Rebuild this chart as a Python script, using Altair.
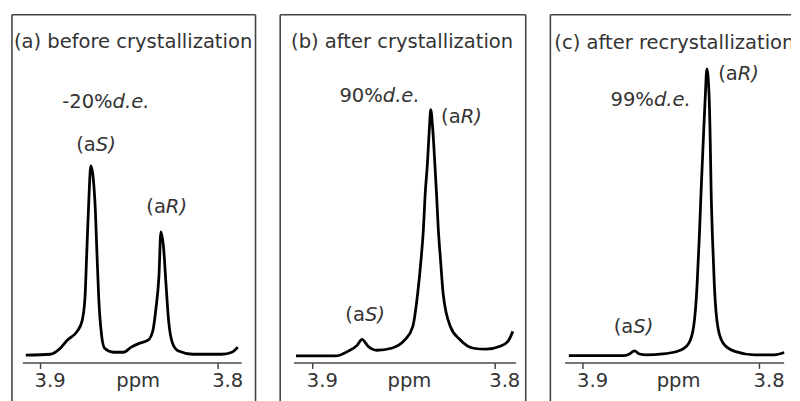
import altair as alt
import pandas as pd

# ---------------- data ----------------
# shared intensity scale (tallest peak = 100)
Y_DOMAIN = [-16.14, 119.03]

# panel (a) spectrum
a_ppm = [3.9083, 3.8944, 3.8889, 3.8850, 3.8794, 3.8767, 3.8750, 3.8739, 3.8728, 3.8717,
         3.8694, 3.8683, 3.8672, 3.8656, 3.8639, 3.8589, 3.8533, 3.8489, 3.8444, 3.8394,
         3.8367, 3.8350, 3.8333, 3.8322, 3.8306, 3.8294, 3.8278, 3.8256, 3.8222, 3.8144,
         3.7978, 3.7922, 3.7889]
a_int = [0.0, 0.3, 2.4, 5.2, 8.3, 11.7, 19.7, 36.9, 54.1, 66.2,
         54.1, 36.9, 19.7, 6.9, 2.4, 1.0, 1.0, 2.8, 4.1, 5.2,
         8.6, 16.2, 27.6, 43.1, 36.9, 25.5, 11.7, 4.1, 1.4, 0.3,
         0.3, 1.0, 2.8]

# panel (b) spectrum
b_ppm = [3.9092, 3.8876, 3.8805, 3.8757, 3.8730, 3.8697, 3.8649, 3.8568, 3.8497, 3.8452,
         3.8425, 3.8407, 3.8393, 3.8384, 3.8371, 3.8361, 3.8353, 3.8342, 3.8331, 3.8321,
         3.8312, 3.8299, 3.8285, 3.8245, 3.8191, 3.8119, 3.8049, 3.7973, 3.7930, 3.7903]
b_int = [-0.3, -0.3, 1.4, 3.4, 5.5, 3.1, 1.7, 2.4, 5.2, 9.9,
         21.4, 32.9, 44.4, 55.9, 67.3, 78.9, 85.8, 78.9, 67.3, 55.9,
         44.4, 32.9, 21.4, 9.9, 5.3, 2.4, 2.1, 3.1, 4.8, 8.3]

# panel (c) spectrum
c_ppm = [3.9080, 3.8773, 3.8736, 3.8708, 3.8680, 3.8642, 3.8549, 3.8456, 3.8401, 3.8373,
         3.8354, 3.8341, 3.8330, 3.8318, 3.8307, 3.8298, 3.8285, 3.8279, 3.8274, 3.8266,
         3.8255, 3.8236, 3.8205, 3.8140, 3.8028, 3.7916, 3.7860]
c_int = [-0.2, -0.2, 0.4, 1.5, 0.4, 0.1, 0.4, 1.5, 4.1, 9.9,
         23.7, 40.9, 58.2, 75.4, 90.3, 100.1, 90.3, 75.4, 58.2, 40.9,
         23.7, 9.9, 4.1, 1.3, 0.1, 0.1, 0.9]

# x-scale domains of the three frames (ppm)
x_domains = [[3.77889, 3.91611], [3.78324, 3.91784], [3.78212, 3.91844]]
frame_widths = [247, 249, 244]
frame_right = [True, True, False]   # panel (c) runs off the right edge

# axis lines (ppm extent) and tick values
axis_ext = [[3.9100, 3.7867], [3.9103, 3.7886], [3.9101, 3.7860]]
tick_vals = [3.9, 3.8]
tick_text = ["3.9", "3.8"]
AXIS_Y = -2.76
TICK_Y2 = -4.83
LABEL_Y = -11.2      # text baseline of tick labels and "ppm"

titles = ["(a) before crystallization", "(b) after crystallization", "(c) after recrystallization"]
title_ppm = [3.9150, 3.9119, 3.9162]
title_y = [109.3, 109.3, 109.0]
title_fs = [19.8, 19.8, 19.8]

ppm_label_x = [3.8450, 3.8470, 3.8458]

de_text = ["-20%", "90%", "99%"]
de_ppm = [3.8594, 3.8616, 3.8598]
de_y = [88.6, 90.7, 89.3]

aS_ppm = [3.8689, 3.8714, 3.8715]
aS_y = [73.4, 14.1, 9.7]
aR_ppm = [3.8294, 3.8189, 3.8123]
aR_y = [51.7, 83.1, 98.3]

spectra = [(a_ppm, a_int), (b_ppm, b_int), (c_ppm, c_int)]

FONT = "DejaVu Sans"
FS = 19.8
LFS = 19.8
TXT = "#333333"
FRAME = "#444444"


def panel(i):
    lo, hi = x_domains[i]
    xs = alt.Scale(domain=[lo, hi], reverse=True, nice=False, zero=False)
    ys = alt.Scale(domain=Y_DOMAIN, nice=False, zero=False)

    def X(f):
        return alt.X(f, type="quantitative", scale=xs, axis=None)

    def Yq(f):
        return alt.Y(f, type="quantitative", scale=ys, axis=None)

    # frame: left / right sides and top, open at the bottom
    sides_x = [hi, lo] if frame_right[i] else [hi]
    sides = pd.DataFrame({"x": sides_x, "y0": [Y_DOMAIN[0]] * len(sides_x),
                          "y1": [Y_DOMAIN[1]] * len(sides_x)})
    frame_sides = alt.Chart(sides).mark_rule(color=FRAME, strokeWidth=1.6).encode(
        x=X("x"), y=Yq("y0"), y2="y1")
    top = pd.DataFrame({"x0": [hi], "x1": [lo], "y": [Y_DOMAIN[1]]})
    frame_top = alt.Chart(top).mark_rule(color=FRAME, strokeWidth=1.6).encode(
        x=X("x0"), x2="x1", y=Yq("y"))

    ppm, inten = spectra[i]
    spec = pd.DataFrame({"ppm": ppm, "y": inten})
    line = alt.Chart(spec).mark_line(color="black", strokeWidth=2.8,
                                     interpolate="monotone").encode(x=X("ppm"), y=Yq("y"))

    ax = pd.DataFrame({"x0": [axis_ext[i][0]], "x1": [axis_ext[i][1]], "y": [AXIS_Y]})
    axis_line = alt.Chart(ax).mark_rule(color="#777777", strokeWidth=2).encode(
        x=X("x0"), x2="x1", y=Yq("y"))

    tk = pd.DataFrame({"t": tick_vals, "y0": [AXIS_Y] * 2, "y1": [TICK_Y2] * 2,
                       "lab": tick_text, "ly": [LABEL_Y] * 2})
    ticks = alt.Chart(tk).mark_rule(color="#444444", strokeWidth=1.5).encode(
        x=X("t"), y=Yq("y0"), y2="y1")
    tlabels = alt.Chart(tk).mark_text(align="left", baseline="alphabetic", dx=-6,
                                      font=FONT, fontSize=LFS, color=TXT).encode(
        x=X("t"), y=Yq("ly"), text="lab:N")

    ppm_df = pd.DataFrame({"x": [ppm_label_x[i]], "y": [LABEL_Y], "t": ["ppm"]})
    ppm_lab = alt.Chart(ppm_df).mark_text(align="center", baseline="alphabetic",
                                          font=FONT, fontSize=LFS, color=TXT).encode(
        x=X("x"), y=Yq("y"), text="t:N")

    ttl = pd.DataFrame({"x": [title_ppm[i]], "y": [title_y[i]], "t": [titles[i]]})
    title = alt.Chart(ttl).mark_text(align="left", baseline="middle", clip=True,
                                     font=FONT, fontSize=title_fs[i], color=TXT).encode(
        x=X("x"), y=Yq("y"), text="t:N")

    left_pieces = pd.DataFrame({"x": [de_ppm[i], aS_ppm[i], aR_ppm[i]],
                                "y": [de_y[i], aS_y[i], aR_y[i]],
                                "t": [de_text[i], "(a", "(a"]})
    right_pieces = pd.DataFrame({"x": [de_ppm[i], aS_ppm[i], aR_ppm[i]],
                                 "y": [de_y[i], aS_y[i], aR_y[i]],
                                 "t": ["d.e.", "S)", "R)"]})
    lp = alt.Chart(left_pieces).mark_text(align="right", baseline="middle",
                                          font=FONT, fontSize=FS, color=TXT).encode(
        x=X("x"), y=Yq("y"), text="t:N")
    rp = alt.Chart(right_pieces).mark_text(align="left", baseline="middle", fontStyle="italic",
                                           font=FONT, fontSize=FS, color=TXT).encode(
        x=X("x"), y=Yq("y"), text="t:N")

    return alt.layer(frame_sides, frame_top, axis_line, ticks, line, tlabels, ppm_lab,
                     title, lp, rp).properties(width=frame_widths[i], height=392)


chart = alt.hconcat(panel(0), panel(1), panel(2), spacing=25, bounds="flush").properties(
    padding={"left": 3, "top": 3, "right": 0, "bottom": 0}
).configure_view(stroke="transparent", strokeWidth=0)

chart.save("out.html", embed_options={"renderer": "svg", "actions": False})
